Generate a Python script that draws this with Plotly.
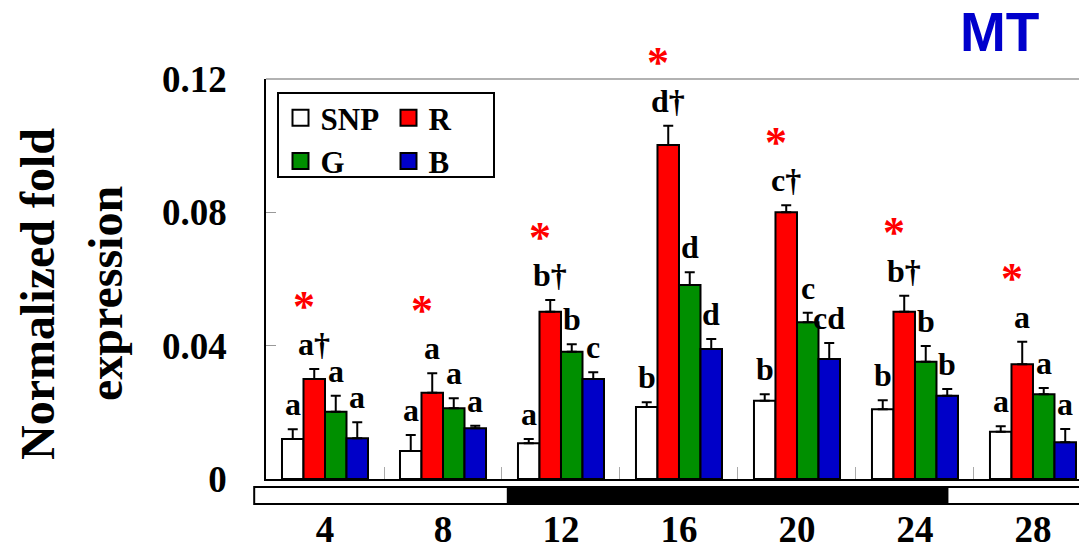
import plotly.graph_objects as go

# Sampling times (h) and groups
hours = [4, 8, 12, 16, 20, 24, 28]
groups = ["SNP", "R", "G", "B"]

# Mean normalized fold expression per group
snp = [0.0120, 0.0084, 0.0107, 0.0216, 0.0235, 0.0209, 0.0142]
red = [0.0300, 0.0259, 0.0502, 0.1002, 0.0800, 0.0502, 0.0344]
green = [0.0202, 0.0212, 0.0382, 0.0582, 0.0470, 0.0352, 0.0254]
blue = [0.0122, 0.0152, 0.0300, 0.0390, 0.0360, 0.0250, 0.0110]

# Standard errors (upper whiskers only)
snp_err = [0.0029, 0.0048, 0.0013, 0.0014, 0.0019, 0.0027, 0.0016]
red_err = [0.0030, 0.0058, 0.0035, 0.0058, 0.0021, 0.0048, 0.0068]
green_err = [0.0048, 0.0030, 0.0022, 0.0038, 0.0029, 0.0047, 0.0019]
blue_err = [0.0048, 0.0008, 0.0020, 0.0030, 0.0048, 0.0020, 0.0040]

# Significance letters over each bar
snp_lbl = ["a", "a", "a", "b", "b", "b", "a"]
red_lbl = ["a†", "a", "b†", "d†", "c†", "b†", "a"]
green_lbl = ["a", "a", "b", "d", "c", "b", "a"]
blue_lbl = ["a", "a", "c", "d", "cd", "b", "a"]

# Asterisk marks (R vs SNP) per time point
red_star = [True, True, True, True, True, True, True]

# Light / dark phases along the time axis (h)
phase_kind = ["light", "dark", "light"]
phase_start = [1.6, 10.2, 25.1]
phase_end = [10.2, 25.1, 31.0]

y_ticks = [0, 0.04, 0.08, 0.12]
y_tick_text = ["0", "0.04", "0.08", "0.12"]

colors = {"SNP": "#FFFFFF", "R": "#FF0000", "G": "#008F00", "B": "#0000C8"}
values = {"SNP": snp, "R": red, "G": green, "B": blue}
errors = {"SNP": snp_err, "R": red_err, "G": green_err, "B": blue_err}
labels = {"SNP": snp_lbl, "R": red_lbl, "G": green_lbl, "B": blue_lbl}

SERIF = "Liberation Serif"
X_MIN, X_MAX = 2.0, 29.56
BARGAP = 0.271
SLOT = 4.0
bar_w = SLOT * (1 - BARGAP) / len(groups)

fig = go.Figure()

for g in groups:
    fig.add_trace(go.Bar(
        x=hours, y=values[g], name=g, showlegend=False,
        marker=dict(color=colors[g], line=dict(color="black", width=2)),
        error_y=dict(type="data", symmetric=False, array=errors[g],
                     arrayminus=[0] * len(hours), color="black",
                     thickness=2, width=5),
    ))

# legend swatches: two columns (SNP/G and R/B)
legend_of = {"SNP": "legend", "G": "legend", "R": "legend2", "B": "legend2"}
for g in ["SNP", "G", "R", "B"]:
    fig.add_trace(go.Scatter(
        x=[None], y=[None], mode="markers", name=g, legend=legend_of[g],
        marker=dict(symbol="square", size=16, color=colors[g],
                    line=dict(color="black", width=2)),
    ))

annotations = []
for gi, g in enumerate(groups):
    off = (gi - 1.5) * bar_w
    for i, h in enumerate(hours):
        top = values[g][i] + errors[g][i]
        annotations.append(dict(
            x=h + off, y=top, xref="x", yref="y", text=labels[g][i],
            showarrow=False, yanchor="middle", yshift=25,
            font=dict(family=SERIF, size=32, color="black", weight="bold"),
        ))
        if g == "R" and red_star[i]:
            annotations.append(dict(
                x=h + off, y=top, xref="x", yref="y", text="*",
                showarrow=False, yanchor="middle", yshift=63, xshift=-10,
                font=dict(family=SERIF, size=44, color="#FF0000", weight="bold"),
            ))

# y-axis title in two lines
annotations.append(dict(
    x=-0.2817, y=0.4625, xref="paper", yref="paper", text="Normalized fold",
    textangle=-90, showarrow=False, xanchor="center", yanchor="middle",
    font=dict(family=SERIF, size=48, color="black", weight="bold"),
))
annotations.append(dict(
    x=-0.198, y=0.4625, xref="paper", yref="paper", text="expression",
    textangle=-90, showarrow=False, xanchor="center", yanchor="middle",
    font=dict(family=SERIF, size=48, color="black", weight="bold"),
))
# panel tag
annotations.append(dict(
    x=0.9028, y=(479 - 31.5) / 400, xref="paper", yref="paper", text="MT",
    showarrow=False, xanchor="center", yanchor="middle",
    font=dict(family="Liberation Sans", size=55, color="#0000CC", weight="bold"),
))

def to_paper(h):
    return (h - X_MIN) / (X_MAX - X_MIN)

shapes = [
    # top frame line
    dict(type="line", xref="paper", yref="paper", x0=0, x1=1, y0=1, y1=1,
         line=dict(color="#999999", width=1.5)),
    # legend frame
    dict(type="rect", xref="paper", yref="paper",
         x0=12 / 813, x1=228 / 813,
         y0=(479 - 177) / 400, y1=(479 - 93) / 400,
         line=dict(color="black", width=2), fillcolor="rgba(0,0,0,0)"),
]
for kind, s, e in zip(phase_kind, phase_start, phase_end):
    shapes.append(dict(
        type="rect", xref="paper", yref="paper",
        x0=to_paper(s), x1=to_paper(e), y0=-0.0625, y1=-0.02,
        fillcolor="black" if kind == "dark" else "white",
        line=dict(color="black", width=2),
    ))

fig.update_layout(
    width=1079, height=553,
    margin=dict(l=266, r=0, t=79, b=74),
    paper_bgcolor="white", plot_bgcolor="white",
    barmode="group", bargap=BARGAP, bargroupgap=0,
    annotations=annotations, shapes=shapes,
    legend=dict(x=14.5 / 813, y=(479 - 91) / 400, xanchor="left", yanchor="top",
                bgcolor="rgba(0,0,0,0)", borderwidth=0,
                font=dict(family=SERIF, size=31, color="black", weight="bold")),
    legend2=dict(x=122.5 / 813, y=(479 - 91) / 400, xanchor="left", yanchor="top",
                 bgcolor="rgba(0,0,0,0)", borderwidth=0,
                 font=dict(family=SERIF, size=31, color="black", weight="bold")),
    xaxis=dict(
        range=[X_MIN, X_MAX], tickmode="array", tickvals=hours,
        ticktext=[str(h) for h in hours], ticks="", showline=True,
        linecolor="black", linewidth=2, showgrid=False, zeroline=False,
        ticklabelstandoff=17, automargin=False,
        tickfont=dict(family=SERIF, size=37, color="black", weight="bold"),
        minor=dict(tickmode="array", tickvals=[6, 10, 14, 18, 22, 26],
                   ticks="inside", ticklen=12, tickcolor="#AAAAAA", tickwidth=1),
    ),
    yaxis=dict(
        range=[0, 0.12], tickmode="array", tickvals=y_ticks, ticktext=y_tick_text,
        ticks="inside", ticklen=10, tickcolor="#999999", tickwidth=1,
        showline=True, linecolor="black", linewidth=1.5, showgrid=False,
        zeroline=False, ticklabelstandoff=30, automargin=False,
        tickfont=dict(family=SERIF, size=37, color="black", weight="bold"),
    ),
)

fig.write_html("out.html")
